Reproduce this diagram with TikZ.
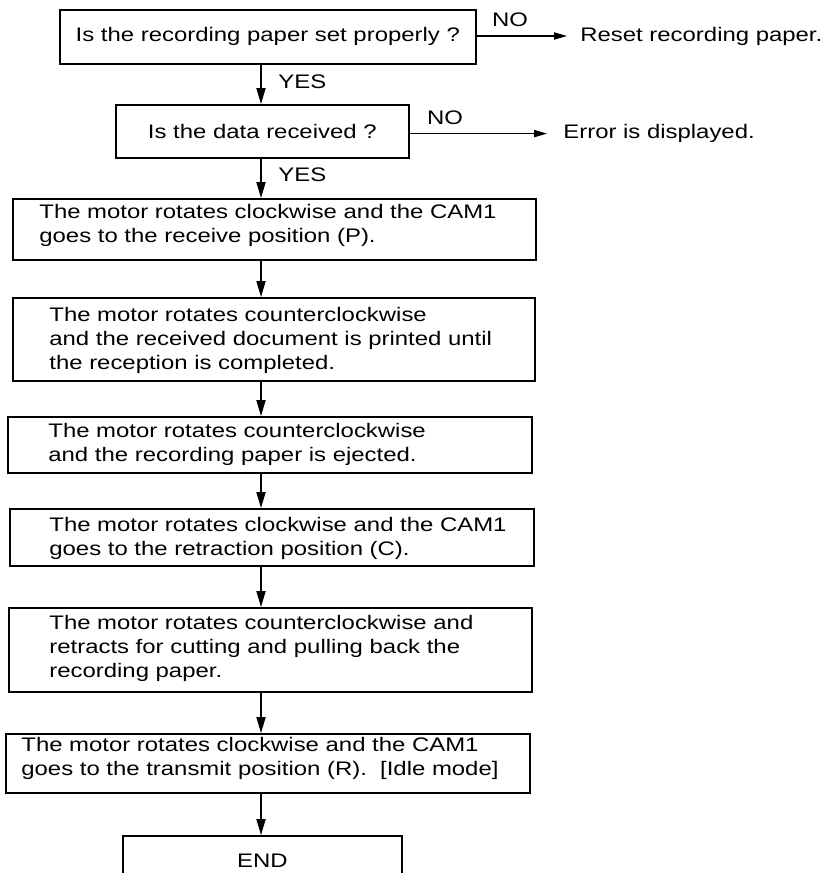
\documentclass[tikz,border=0pt]{standalone}
\usepackage{fontspec}
\setmainfont{Liberation Sans}[FakeStretch=1.22]
\usetikzlibrary{arrows.meta}

\begin{document}
\begin{tikzpicture}[
    x=1pt, y=-1pt,
    font=\fontsize{9.8}{12}\selectfont,
    stepbox/.style={draw, line width=0.8pt, anchor=north west, inner sep=0pt},
    steptext/.style={anchor=north west, align=left, inner sep=0pt},
    flow/.style={draw, line width=0.6pt, -{Triangle[length=8pt, width=4.6pt]}},
    branch/.style={draw, line width=0.6pt, -{Triangle[length=6.5pt, width=3.6pt]}},
    answer/.style={inner sep=0pt}
]
\clip (0,0) rectangle (412.5,436.5);
\def\spine{130.5}
\coordinate (spine) at (\spine,0);

% The two checks.
\node[stepbox, minimum width=208pt, minimum height=27pt] (q1) at (29.5,4.5)
    {Is the recording paper set properly ?};
\node[stepbox, minimum width=146.5pt, minimum height=26.5pt] (q2) at (57.5,52)
    {Is the data received ?};

% Motor steps.
\node[stepbox, minimum width=261.5pt, minimum height=30.5pt] (s3) at (6,99) {};
\node[stepbox, minimum width=261pt, minimum height=41.5pt] (s4) at (6,148.5) {};
\node[stepbox, minimum width=262pt, minimum height=28pt] (s5) at (3.5,208) {};
\node[stepbox, minimum width=262pt, minimum height=28.5pt] (s6) at (4.5,254) {};
\node[stepbox, minimum width=261.5pt, minimum height=42pt] (s7) at (4,303.5) {};
\node[stepbox, minimum width=262pt, minimum height=29.5pt] (s8) at (2.5,366.5) {};
\node[stepbox, minimum width=139.5pt, minimum height=25pt] (done) at (61,417.5) {END};

\node[steptext] (t3) at ([shift={(13.5,3)}]s3.north west)
    {The motor rotates clockwise and the CAM1\\goes to the receive position (P).};
\node[steptext] (t4) at ([shift={(18.5,4.8)}]s4.north west)
    {The motor rotates counterclockwise\\and the received document is printed until\\the reception is completed.};
\node[steptext] (t5) at ([shift={(20.5,3.6)}]s5.north west)
    {The motor rotates counterclockwise\\and the recording paper is ejected.};
\node[steptext] (t6) at ([shift={(20,4.3)}]s6.north west)
    {The motor rotates clockwise and the CAM1\\goes to the retraction position (C).};
\node[steptext] (t7) at ([shift={(20.5,4.1)}]s7.north west)
    {The motor rotates counterclockwise and\\retracts for cutting and pulling back the\\recording paper.};
\node[steptext] (t8) at ([shift={(8,1.7)}]s8.north west)
    {The motor rotates clockwise and the CAM1\\goes to the transmit position (R).\ \ [Idle mode]};

% Main line, top to bottom.
\foreach \a/\b in {q1/q2,q2/s3,s3/s4,s4/s5,s5/s6,s6/s7,s7/s8,s8/done}
    \draw[flow] (\a.south -| spine) -- (\b.north -| spine);
\node[answer, anchor=west] (yes1) at (139,40.75) {YES};
\node[answer, anchor=west] (yes2) at (139,87.5) {YES};

% NO branches.
\node[anchor=west, inner xsep=6.5pt, inner ysep=0pt] (reset) at (283.5,18) {Reset recording paper.};
\draw[branch] (q1.east |- reset.west) -- (reset.west);
\node[answer] (no1) at (255,9.85) {NO};
\node[anchor=west, inner xsep=8pt, inner ysep=0pt] (error) at (273.5,66.8) {Error is displayed.};
\draw[branch] (q2.east |- error.west) -- (error.west);
\node[answer] (no2) at (222.5,58.75) {NO};
\end{tikzpicture}
\end{document}
